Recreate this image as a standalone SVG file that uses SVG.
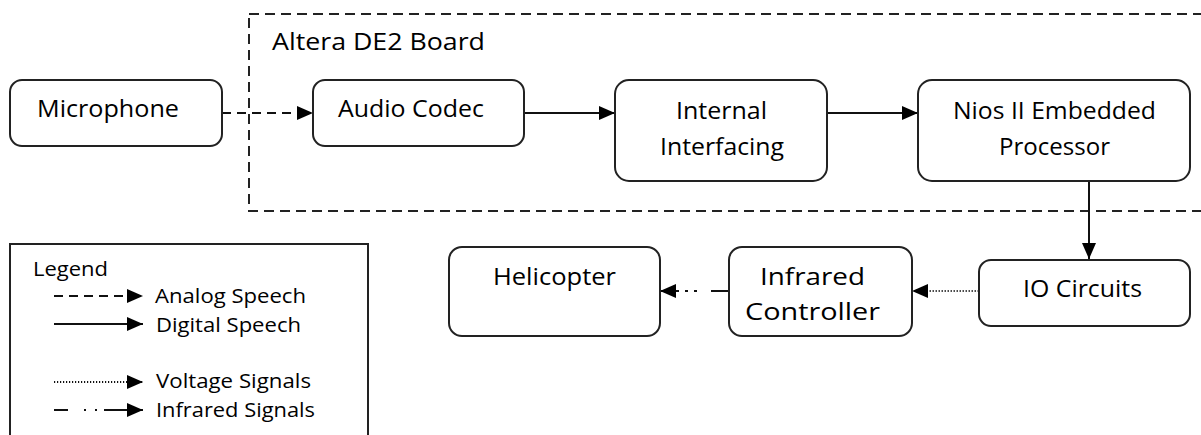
<svg xmlns="http://www.w3.org/2000/svg" width="1201" height="435" viewBox="0 0 1201 435">
<style>
.box{fill:#fff;stroke:#222;stroke-width:2}
.t{font-family:"Open Sans","Liberation Sans",sans-serif;font-size:23px;fill:#000}
.lt{font-family:"Open Sans","Liberation Sans",sans-serif;font-size:20.5px;fill:#000}
.c{fill:none;stroke:#111;stroke-width:2}
.dash{stroke-dasharray:9 6}
.dot{stroke-dasharray:1.5 1.5;stroke-width:1.6}
</style>
<defs>
<marker id="ah" markerUnits="userSpaceOnUse" markerWidth="16" markerHeight="14" viewBox="0 0 16 14" refX="16" refY="7" orient="auto">
<path d="M0,0 L16,7 L0,14 z" fill="#000"/>
</marker>
</defs>
<rect width="1201" height="435" fill="#fff"/>
<g id="board">
<rect x="249" y="14" width="970" height="197" fill="none" stroke="#222" stroke-width="2" stroke-dasharray="10 6"/>
<text class="t" x="272" y="50" textLength="213" lengthAdjust="spacingAndGlyphs">Altera DE2 Board</text>
</g>
<g id="connectors">
<line class="c dash" x1="222" y1="113" x2="313" y2="113" marker-end="url(#ah)"/>
<line class="c" x1="524" y1="113" x2="615" y2="113" marker-end="url(#ah)"/>
<line class="c" x1="827" y1="113" x2="918" y2="113" marker-end="url(#ah)"/>
<line class="c" x1="1089" y1="181" x2="1089" y2="259" marker-end="url(#ah)"/>
<line class="c dot" x1="979" y1="291" x2="912" y2="291" marker-end="url(#ah)"/>
<line class="c" x1="729" y1="291" x2="711" y2="291"/>
<line class="c" x1="697" y1="291" x2="694" y2="291"/>
<line class="c" x1="688" y1="291" x2="685" y2="291"/>
<line class="c" x1="679" y1="291" x2="660" y2="291" marker-end="url(#ah)"/>
</g>
<g id="microphone">
<rect class="box" x="10" y="80" width="212" height="66" rx="12"/>
<text class="t" x="37" y="117" textLength="142" lengthAdjust="spacingAndGlyphs">Microphone</text>
</g>
<g id="audio-codec">
<rect class="box" x="313" y="80" width="211" height="66" rx="12"/>
<text class="t" x="338" y="117" textLength="146" lengthAdjust="spacingAndGlyphs">Audio Codec</text>
</g>
<g id="internal-interfacing">
<rect class="box" x="615" y="80" width="212" height="101" rx="14"/>
<text class="t" x="676" y="119" textLength="91" lengthAdjust="spacingAndGlyphs">Internal</text>
<text class="t" x="660" y="155" textLength="124" lengthAdjust="spacingAndGlyphs">Interfacing</text>
</g>
<g id="nios">
<rect class="box" x="918" y="80" width="272" height="101" rx="14"/>
<text class="t" x="953" y="119" textLength="203" lengthAdjust="spacingAndGlyphs">Nios II Embedded</text>
<text class="t" x="999" y="155" textLength="111" lengthAdjust="spacingAndGlyphs">Processor</text>
</g>
<g id="io-circuits">
<rect class="box" x="979" y="260" width="211" height="66" rx="12"/>
<text class="t" x="1023" y="297" textLength="119" lengthAdjust="spacingAndGlyphs">IO Circuits</text>
</g>
<g id="infrared-controller">
<rect class="box" x="729" y="247" width="183" height="89" rx="13"/>
<text class="t" x="760" y="285" textLength="105" lengthAdjust="spacingAndGlyphs">Infrared</text>
<text class="t" x="745" y="320" textLength="135" lengthAdjust="spacingAndGlyphs">Controller</text>
</g>
<g id="helicopter">
<rect class="box" x="449" y="247" width="211" height="89" rx="13"/>
<text class="t" x="493" y="285" textLength="123" lengthAdjust="spacingAndGlyphs">Helicopter</text>
</g>
<g id="legend">
<rect x="10" y="244" width="358" height="200" fill="none" stroke="#222" stroke-width="2"/>
<text class="lt" x="33" y="276" textLength="75" lengthAdjust="spacingAndGlyphs">Legend</text>
<line class="c dash" x1="54" y1="296" x2="143" y2="296" stroke-dasharray="8 5" marker-end="url(#ah)"/>
<line class="c" x1="54" y1="324" x2="143" y2="324" marker-end="url(#ah)"/>
<line class="c" x1="54" y1="382" x2="143" y2="382" stroke-width="1.4" stroke-dasharray="1.2 1.8" marker-end="url(#ah)"/>
<line class="c" x1="54" y1="410" x2="68" y2="410"/>
<line class="c" x1="84" y1="410" x2="86" y2="410"/>
<line class="c" x1="95" y1="410" x2="97" y2="410"/>
<line class="c" x1="104" y1="410" x2="143" y2="410" marker-end="url(#ah)"/>
<text class="lt" x="155" y="303" textLength="151" lengthAdjust="spacingAndGlyphs">Analog Speech</text>
<text class="lt" x="156" y="332" textLength="145" lengthAdjust="spacingAndGlyphs">Digital Speech</text>
<text class="lt" x="156" y="388" textLength="155" lengthAdjust="spacingAndGlyphs">Voltage Signals</text>
<text class="lt" x="156" y="417" textLength="159" lengthAdjust="spacingAndGlyphs">Infrared Signals</text>
</g>
</svg>
